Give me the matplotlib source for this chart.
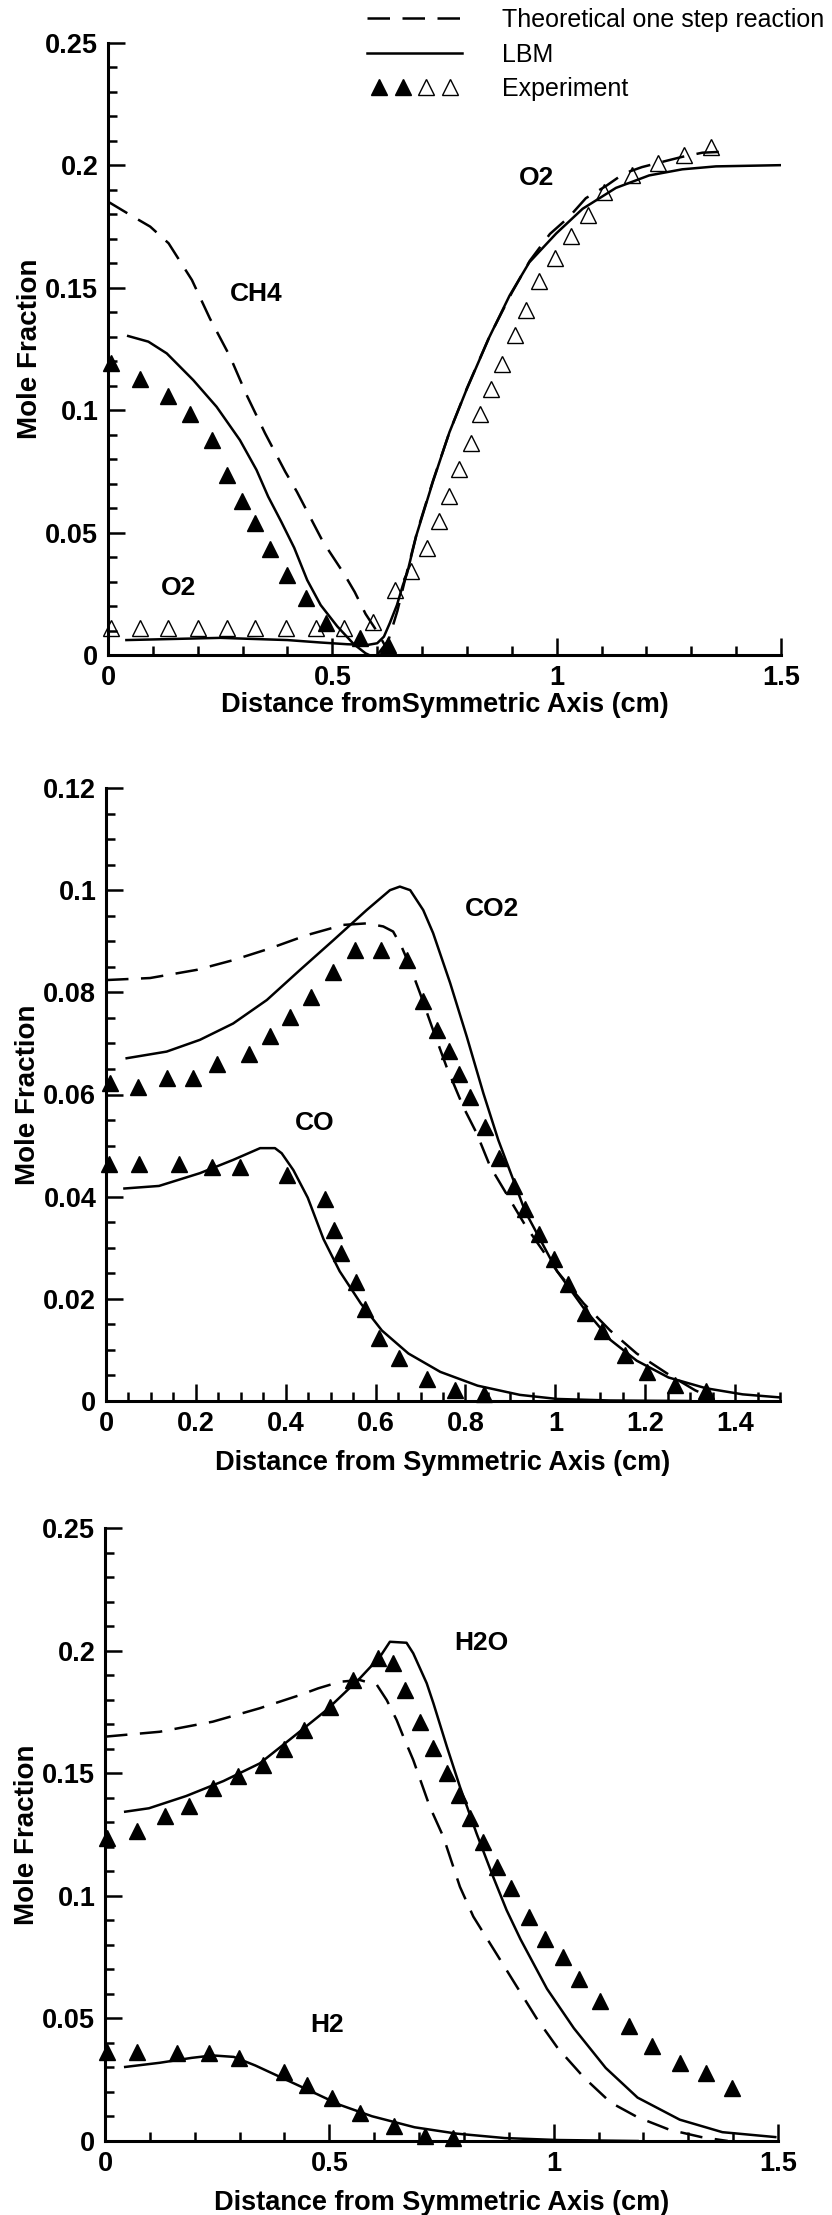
import matplotlib
matplotlib.use("Agg")
import matplotlib.pyplot as plt
from matplotlib.lines import Line2D
from matplotlib.legend_handler import HandlerTuple
from matplotlib.ticker import MultipleLocator, FuncFormatter

plt.rcParams["font.family"] = ["Liberation Sans", "DejaVu Sans"]
plt.rcParams["font.weight"] = "bold"

# ---------------- panel 1: CH4 and O2 ----------------
ch4_exp_x = [0.006, 0.071, 0.134, 0.183, 0.231, 0.266, 0.299, 0.328, 0.361, 0.400, 0.441, 0.485, 0.562, 0.623]
ch4_exp_y = [0.1194, 0.1128, 0.1059, 0.0984, 0.0879, 0.0735, 0.0628, 0.0538, 0.0435, 0.0326, 0.0232, 0.0131, 0.0069, 0.0041]

o2_exp_x = [0.006, 0.071, 0.134, 0.201, 0.266, 0.328, 0.396, 0.464, 0.526, 0.590,
            0.639, 0.676, 0.711, 0.737, 0.760, 0.783, 0.809, 0.829, 0.854, 0.878, 0.908,
            0.932, 0.961, 0.997, 1.032, 1.069, 1.106, 1.169, 1.225, 1.284, 1.343]
o2_exp_y = [0.011, 0.011, 0.011, 0.011, 0.011, 0.011, 0.011, 0.011, 0.011, 0.0133,
            0.0267, 0.0343, 0.0436, 0.0546, 0.0648, 0.0758, 0.0868, 0.0986, 0.1088, 0.1189, 0.1307,
            0.1409, 0.1527, 0.1620, 0.1713, 0.1798, 0.1891, 0.1959, 0.2010, 0.2043, 0.2077]

ch4_lbm_x = [0.045, 0.090, 0.131, 0.190, 0.242, 0.294, 0.331, 0.357, 0.386, 0.415, 0.444, 0.474, 0.511, 0.548, 0.574, 0.582]
ch4_lbm_y = [0.1303, 0.1280, 0.1232, 0.1123, 0.1014, 0.0878, 0.0756, 0.0647, 0.0545, 0.0438, 0.0306, 0.0204, 0.0117, 0.0044, 0.0007, 0.0]

o2_lbm_x = [0.041, 0.25, 0.40, 0.474, 0.533, 0.578, 0.600, 0.615, 0.628, 0.644, 0.657, 0.667, 0.687, 0.724,
            0.761, 0.798, 0.850, 0.895, 0.939, 0.999, 1.058, 1.132, 1.206, 1.280, 1.355, 1.500]
o2_lbm_y = [0.0061, 0.0070, 0.0061, 0.0051, 0.0044, 0.0041, 0.0048, 0.0075, 0.0130, 0.0204, 0.0284, 0.0336, 0.0487, 0.0707,
            0.0910, 0.1079, 0.1299, 0.1468, 0.1604, 0.1722, 0.1823, 0.1908, 0.1959, 0.1984, 0.1996, 0.2001]

ch4_th_x = [0.0, 0.050, 0.094, 0.135, 0.161, 0.187, 0.227, 0.272, 0.309, 0.350, 0.395, 0.421, 0.479, 0.526,
            0.550, 0.574, 0.600, 0.620, 0.630]
ch4_th_y = [0.1852, 0.1797, 0.1750, 0.1682, 0.1607, 0.1532, 0.1375, 0.1219, 0.1062, 0.0906, 0.0749, 0.0667, 0.0463, 0.0332,
            0.0257, 0.0168, 0.0095, 0.003, 0.0]

o2_th_x = [0.600, 0.625, 0.645, 0.665, 0.690, 0.724, 0.761, 0.800, 0.850, 0.900, 0.940, 0.985, 1.028, 1.065,
           1.110, 1.150, 1.190, 1.243, 1.280, 1.325, 1.362]
o2_th_y = [0.0, 0.006, 0.018, 0.033, 0.051, 0.071, 0.091, 0.109, 0.130, 0.148, 0.161, 0.172, 0.179, 0.1866,
           0.1916, 0.1967, 0.1993, 0.2018, 0.2035, 0.2052, 0.2055]

# ---------------- panel 2: CO2 and CO ----------------
co2_exp_x = [0.008, 0.072, 0.135, 0.193, 0.247, 0.318, 0.365, 0.410, 0.456, 0.506, 0.554, 0.611, 0.670, 0.705,
             0.736, 0.763, 0.786, 0.809, 0.843, 0.874, 0.907, 0.933, 0.963, 0.996, 1.028, 1.067, 1.104, 1.155,
             1.205, 1.266, 1.335]
co2_exp_y = [0.0622, 0.0615, 0.0632, 0.0633, 0.0660, 0.0680, 0.0714, 0.0752, 0.0790, 0.0840, 0.0883, 0.0883, 0.0863, 0.0783,
             0.0726, 0.0685, 0.0641, 0.0596, 0.0536, 0.0475, 0.0421, 0.0376, 0.0326, 0.0277, 0.0229, 0.0173, 0.0138, 0.0090,
             0.0057, 0.0032, 0.0019]

co_exp_x = [0.006, 0.073, 0.163, 0.236, 0.299, 0.402, 0.488, 0.508, 0.523, 0.557, 0.576, 0.608, 0.653, 0.715, 0.777, 0.842]
co_exp_y = [0.0464, 0.0464, 0.0464, 0.0458, 0.0458, 0.0443, 0.0396, 0.0335, 0.0290, 0.0232, 0.0181, 0.0124, 0.0084, 0.0043, 0.0021, 0.0013]

co2_lbm_x = [0.046, 0.135, 0.209, 0.283, 0.358, 0.432, 0.506, 0.580, 0.632, 0.654, 0.677, 0.706, 0.728, 0.766, 0.803,
             0.840, 0.873, 0.933, 1.004, 1.063, 1.122, 1.181, 1.252, 1.335, 1.417, 1.500]
co2_lbm_y = [0.0671, 0.0684, 0.0707, 0.0739, 0.0785, 0.0844, 0.0902, 0.0961, 0.1000, 0.1007, 0.1000, 0.0961, 0.0916, 0.0818, 0.0713,
             0.0602, 0.0511, 0.0371, 0.0254, 0.0182, 0.0120, 0.0079, 0.0046, 0.0025, 0.0013, 0.0007]

co2_th_x = [0.0, 0.098, 0.202, 0.283, 0.365, 0.447, 0.528, 0.580, 0.617, 0.639, 0.658, 0.677, 0.699, 0.728, 0.758,
            0.795, 0.825, 0.855, 0.933, 1.004, 1.063, 1.122, 1.181, 1.252, 1.311, 1.346]
co2_th_y = [0.0824, 0.0828, 0.0844, 0.0863, 0.0886, 0.0912, 0.0932, 0.0935, 0.0929, 0.0919, 0.0889, 0.0850, 0.0798, 0.0726, 0.0654,
            0.0576, 0.0524, 0.0459, 0.0344, 0.0254, 0.0191, 0.0138, 0.0093, 0.0052, 0.0021, 0.0007]

co_lbm_x = [0.041, 0.118, 0.209, 0.283, 0.343, 0.376, 0.391, 0.417, 0.449, 0.484, 0.520, 0.567, 0.614, 0.673, 0.744,
            0.827, 0.921, 1.004, 1.122, 1.300]
co_lbm_y = [0.0416, 0.0421, 0.0446, 0.0472, 0.0495, 0.0495, 0.0485, 0.0452, 0.0398, 0.0317, 0.0254, 0.0191, 0.0138, 0.0093, 0.0057,
            0.0030, 0.0012, 0.0004, 0.0001, 0.0]

# ---------------- panel 3: H2O and H2 ----------------
h2o_exp_x = [0.004, 0.072, 0.134, 0.187, 0.240, 0.297, 0.352, 0.398, 0.443, 0.502, 0.553, 0.609, 0.643, 0.669,
             0.702, 0.732, 0.763, 0.790, 0.813, 0.842, 0.874, 0.904, 0.946, 0.980, 1.021, 1.056, 1.104, 1.169,
             1.220, 1.281, 1.340, 1.397]
h2o_exp_y = [0.1236, 0.1266, 0.1327, 0.1367, 0.1438, 0.1488, 0.1535, 0.1600, 0.1677, 0.1769, 0.1880, 0.1968, 0.1948, 0.1839,
             0.1710, 0.1602, 0.1500, 0.1411, 0.1316, 0.1221, 0.1119, 0.1031, 0.0913, 0.0823, 0.0752, 0.0661, 0.0571, 0.0470,
             0.0389, 0.0319, 0.0278, 0.0218]

h2_exp_x = [0.004, 0.072, 0.161, 0.232, 0.299, 0.400, 0.451, 0.506, 0.569, 0.645, 0.713, 0.775]
h2_exp_y = [0.0365, 0.0365, 0.0359, 0.0359, 0.0339, 0.0282, 0.0228, 0.0177, 0.0113, 0.0060, 0.0020, 0.0012]

h2o_lbm_x = [0.045, 0.098, 0.181, 0.264, 0.345, 0.420, 0.494, 0.568, 0.613, 0.635, 0.672, 0.687, 0.717, 0.732, 0.762,
             0.791, 0.828, 0.865, 0.895, 0.926, 0.985, 1.045, 1.116, 1.187, 1.281, 1.376, 1.494]
h2o_lbm_y = [0.1343, 0.1357, 0.1407, 0.1468, 0.1540, 0.1649, 0.1758, 0.1887, 0.1975, 0.2036, 0.2032, 0.1989, 0.1867, 0.1785, 0.1608,
             0.1445, 0.1255, 0.1078, 0.0942, 0.0823, 0.0621, 0.0460, 0.0298, 0.0177, 0.0087, 0.0036, 0.0016]

h2o_th_x = [0.0, 0.122, 0.240, 0.345, 0.390, 0.435, 0.475, 0.524, 0.568, 0.606, 0.628, 0.650, 0.665, 0.687, 0.724,
            0.754, 0.791, 0.821, 0.873, 0.914, 0.962, 1.009, 1.068, 1.127, 1.187, 1.258, 1.329, 1.388]
h2o_th_y = [0.1649, 0.1669, 0.1710, 0.1765, 0.1792, 0.1819, 0.1846, 0.1873, 0.1880, 0.1860, 0.1798, 0.1717, 0.1649, 0.1554, 0.1363,
            0.1241, 0.1037, 0.0915, 0.0762, 0.0641, 0.0500, 0.0379, 0.0258, 0.0157, 0.0097, 0.0046, 0.0016, 0.0]

h2_lbm_x = [0.045, 0.122, 0.193, 0.240, 0.287, 0.335, 0.394, 0.453, 0.524, 0.595, 0.690, 0.784, 0.891, 1.009, 1.187]
h2_lbm_y = [0.0302, 0.0319, 0.0339, 0.0349, 0.0343, 0.0308, 0.0258, 0.0208, 0.0147, 0.0101, 0.0056, 0.0030, 0.0012, 0.0004, 0.0]

LW = 1.8
DASH = (0, (9, 5))
TRI = dict(marker="^", ms=11, linestyle="none", clip_on=False, zorder=4)
TICK_FS = 19.5
LABEL_FS = 20
NAME_FS = 19


def style(ax, xmajor, xminor, ymajor, yminor, ytop, xlabel, xlabel_y):
    ax.set_xlim(0, 1.5)
    ax.set_ylim(0, ytop)
    for s in ("top", "right"):
        ax.spines[s].set_visible(False)
    for s in ("left", "bottom"):
        ax.spines[s].set_linewidth(2.2)
    ax.xaxis.set_major_locator(MultipleLocator(xmajor))
    ax.xaxis.set_minor_locator(MultipleLocator(xminor))
    ax.yaxis.set_major_locator(MultipleLocator(ymajor))
    ax.yaxis.set_minor_locator(MultipleLocator(yminor))
    fmt = FuncFormatter(lambda v, p: f"{v:g}")
    ax.xaxis.set_major_formatter(fmt)
    ax.yaxis.set_major_formatter(fmt)
    ax.tick_params(which="both", direction="in", top=False, right=False, width=1.8)
    ax.tick_params(which="major", length=12, labelsize=TICK_FS, pad=7)
    ax.tick_params(which="minor", length=6.5)
    ax.set_ylabel("Mole Fraction", fontsize=LABEL_FS, fontweight="bold")
    ax.yaxis.set_label_coords(-0.097, 0.5)
    ax.set_xlabel(xlabel, fontsize=19.5, fontweight="bold")
    ax.xaxis.set_label_coords(0.5, xlabel_y)


fig = plt.figure(figsize=(8.32, 22.15), dpi=100)
ax1 = fig.add_axes([108 / 832, 1 - 655 / 2215, 673 / 832, 612 / 2215])
ax2 = fig.add_axes([106 / 832, 1 - 1401 / 2215, 674 / 832, 613 / 2215])
ax3 = fig.add_axes([105 / 832, 1 - 2141 / 2215, 673 / 832, 613 / 2215])

# panel 1
ax1.plot(ch4_th_x, ch4_th_y, color="black", lw=LW, linestyle=DASH)
ax1.plot(o2_th_x, o2_th_y, color="black", lw=LW, linestyle=DASH)
ax1.plot(ch4_lbm_x, ch4_lbm_y, color="black", lw=LW)
ax1.plot(o2_lbm_x, o2_lbm_y, color="black", lw=LW)
ax1.plot(ch4_exp_x, ch4_exp_y, color="black", mfc="black", **TRI)
ax1.plot(o2_exp_x, o2_exp_y, color="black", mfc="none", mew=1.0, **TRI)
ax1.text(0.331, 0.1475, "CH4", fontsize=NAME_FS, ha="center", va="center")
ax1.text(0.157, 0.0275, "O2", fontsize=NAME_FS, ha="center", va="center")
ax1.text(0.956, 0.195, "O2", fontsize=NAME_FS, ha="center", va="center")
style(ax1, 0.5, 0.1, 0.05, 0.01, 0.25, "Distance fromSymmetric Axis (cm)", -0.06)

h_th = Line2D([], [], color="black", lw=LW, linestyle=DASH)
h_lbm = Line2D([], [], color="black", lw=LW)
h_fill = Line2D([], [], color="black", marker="^", ms=11, linestyle="none")
h_open = Line2D([], [], color="black", mfc="none", mew=1.0, marker="^", ms=11, linestyle="none")
ax1.legend([h_th, h_lbm, (h_fill, h_fill, h_open, h_open)],
           ["Theoretical one step reaction", "LBM", "Experiment"],
           handler_map={tuple: HandlerTuple(ndivide=None, pad=0.0)},
           numpoints=1, loc="upper left", bbox_to_anchor=(367 / 832, 1 - 8 / 2215),
           bbox_transform=fig.transFigure, frameon=False, borderpad=0, borderaxespad=0,
           handlelength=3.8, handletextpad=1.6, labelspacing=0.42,
           prop={"family": "Liberation Sans", "weight": "normal", "size": 18})

# panel 2
ax2.plot(co2_th_x, co2_th_y, color="black", lw=LW, linestyle=DASH)
ax2.plot(co2_lbm_x, co2_lbm_y, color="black", lw=LW)
ax2.plot(co_lbm_x, co_lbm_y, color="black", lw=LW)
ax2.plot(co2_exp_x, co2_exp_y, color="black", mfc="black", **TRI)
ax2.plot(co_exp_x, co_exp_y, color="black", mfc="black", **TRI)
ax2.text(0.86, 0.0964, "CO2", fontsize=NAME_FS, ha="center", va="center")
ax2.text(0.464, 0.0545, "CO", fontsize=NAME_FS, ha="center", va="center")
style(ax2, 0.2, 0.05, 0.02, 0.005, 0.12, "Distance from Symmetric Axis (cm)", -0.08)

# panel 3
ax3.plot(h2o_th_x, h2o_th_y, color="black", lw=LW, linestyle=DASH)
ax3.plot(h2o_lbm_x, h2o_lbm_y, color="black", lw=LW)
ax3.plot(h2_lbm_x, h2_lbm_y, color="black", lw=LW)
ax3.plot(h2o_exp_x, h2o_exp_y, color="black", mfc="black", **TRI)
ax3.plot(h2_exp_x, h2_exp_y, color="black", mfc="black", **TRI)
ax3.text(0.838, 0.203, "H2O", fontsize=NAME_FS, ha="center", va="center")
ax3.text(0.494, 0.0474, "H2", fontsize=NAME_FS, ha="center", va="center")
style(ax3, 0.5, 0.1, 0.05, 0.01, 0.25, "Distance from Symmetric Axis (cm)", -0.08)

fig.savefig("out.png", dpi=100)
